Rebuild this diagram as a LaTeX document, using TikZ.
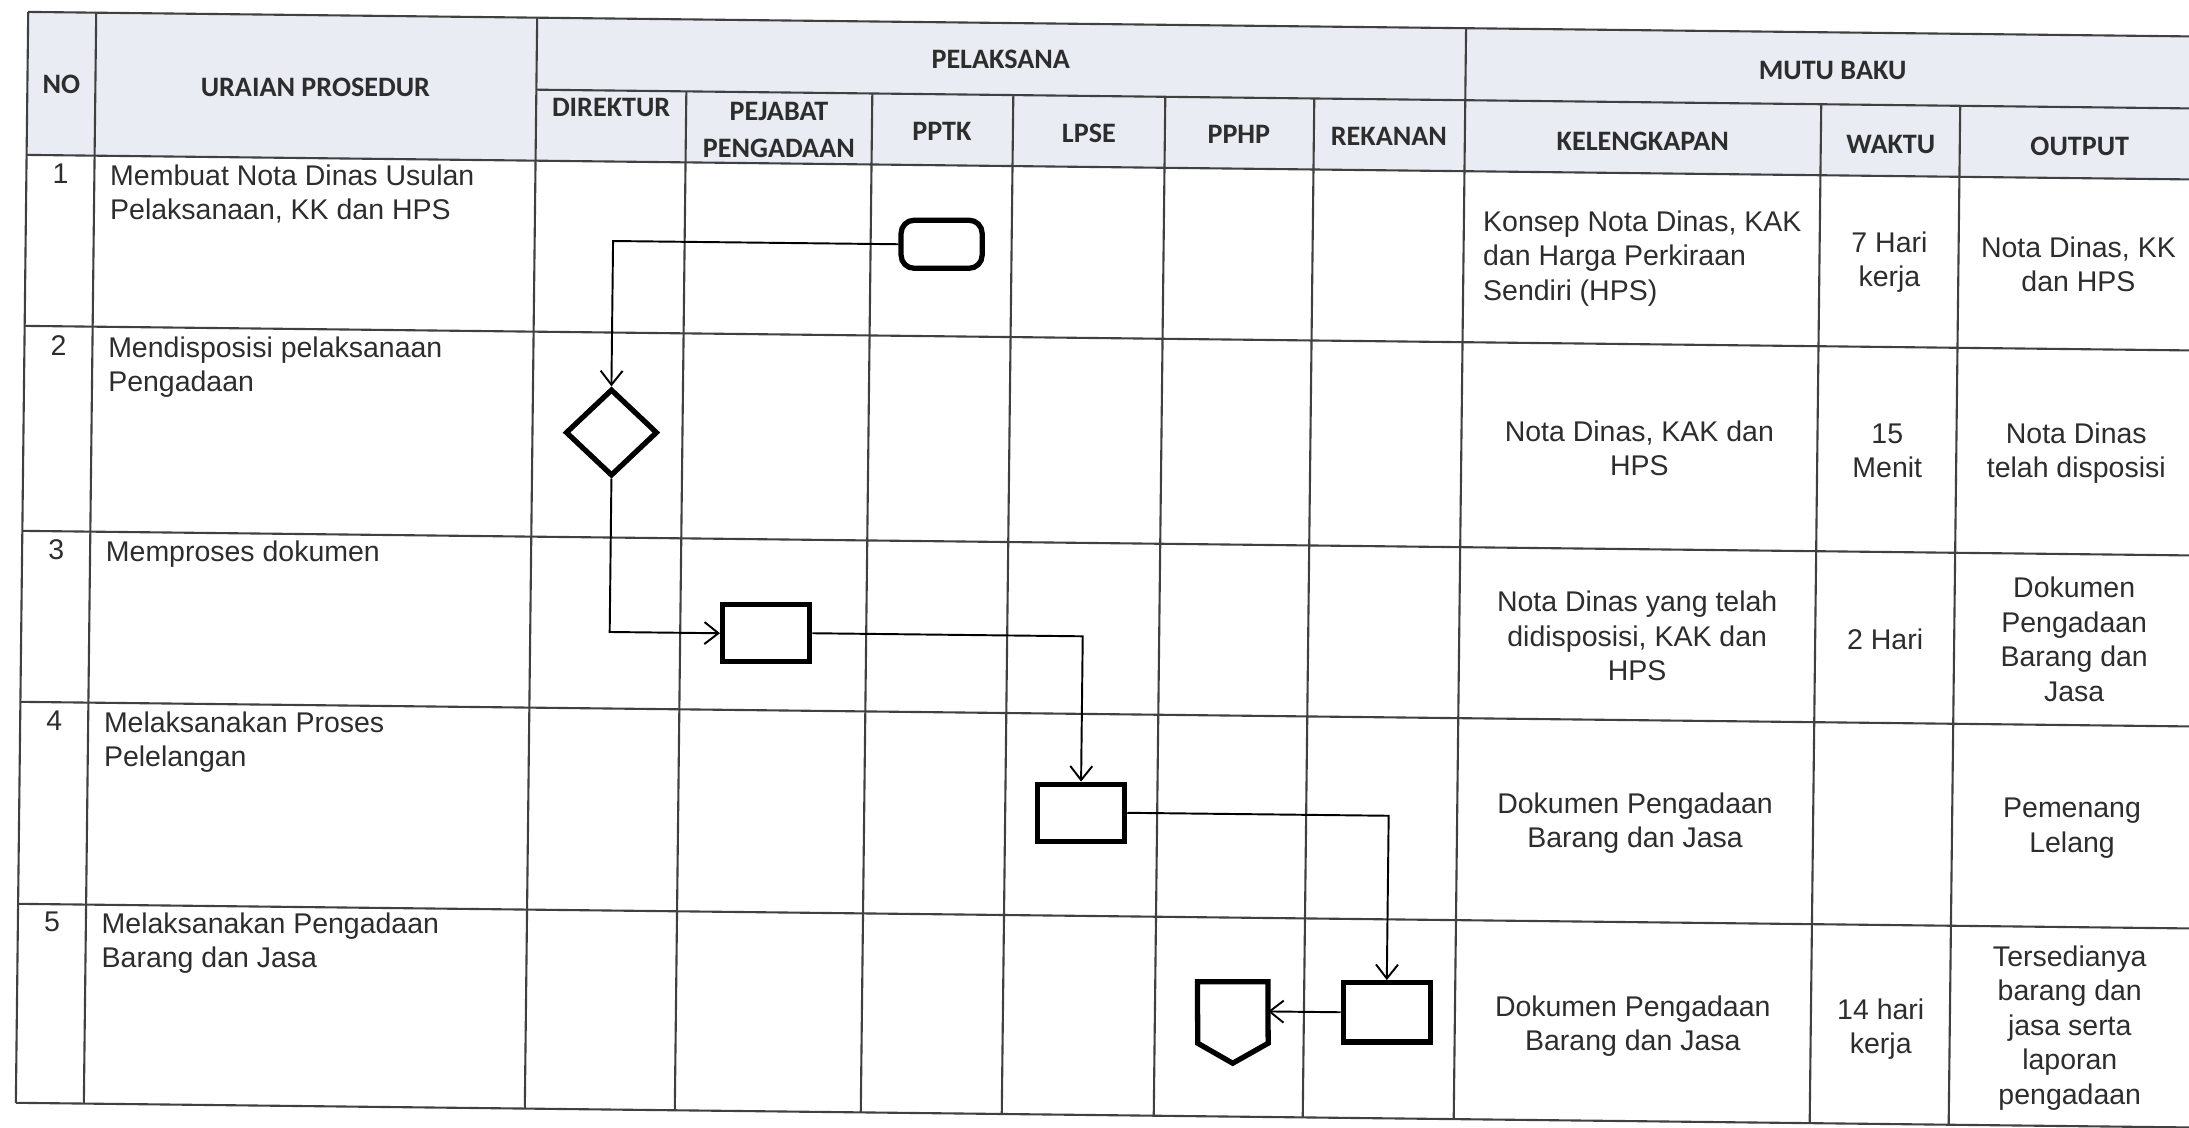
\documentclass[tikz,border=0pt]{standalone}
\usepackage{fontspec}
\setmainfont{Liberation Sans}
\newfontfamily\headfont{Carlito}
\usepackage{xcolor}
\usepackage{tikz}
\usetikzlibrary{%
    shapes.geometric,%
    arrows.meta%
}
\definecolor{headfill}{RGB}{234,236,244}
\definecolor{ink}{RGB}{45,45,45}

\begin{document}
\begin{tikzpicture}[
        x=0.01cm, y=-0.01cm,
        grid/.style={draw=black!75, line width=0.6pt},
        head/.style={font={\headfont\bfseries\fontsize{8}{10.5}\selectfont},
            text=ink, align=center, inner sep=0pt},
        body/.style={font={\fontsize{8.1}{9.8}\selectfont},
            text=ink, align=center, inner sep=0pt},
        flowbox/.style={draw=black, line width=1.5pt, inner sep=0pt,
            minimum width=0.87cm, minimum height=0.57cm},
        flowline/.style={black, line width=0.55pt},
        >={Straight Barb[length=1.4mm,width=2.2mm]},
        ]
        \fill[white] (0,0) rectangle (2189,1127);
        \useasboundingbox (0,0) rectangle (2189,1127);

        % the scan is a little skewed
        \begin{scope}[rotate around={-0.65:(1094,563)}]
        % header background
        \fill[headfill] (22,24) rectangle (2200,167);

        % horizontal rules
        \draw[grid] (22,24) -- (2200,24);
        \draw[grid] (531,96) -- (2200,96);
        \draw[grid] (22,167) -- (2200,167);
        \draw[grid] (22,338) -- (2200,338);
        \draw[grid] (22,543) -- (2200,543);
        \draw[grid] (22,714) -- (2200,714);
        \draw[grid] (22,916) -- (2200,916);
        \draw[grid] (22,1115) -- (2200,1115);

        % vertical rules
        \draw[grid] (22,24) -- (22,1115);
        \draw[grid] (90,24) -- (90,1115);
        \draw[grid] (531,24) -- (531,1115);
        \draw[grid] (681,96) -- (681,1115);
        \draw[grid] (867,96) -- (867,1115);
        \draw[grid] (1008,96) -- (1008,1115);
        \draw[grid] (1160,96) -- (1160,1115);
        \draw[grid] (1309,96) -- (1309,1115);
        \draw[grid] (1460,24) -- (1460,1115);
        \draw[grid] (1816,96) -- (1816,1115);
        \draw[grid] (1955,96) -- (1955,1115);

        % header
        \node[head] (hno) at (56,96) {NO};
        \node[head] (hura) at (310,96) {URAIAN PROSEDUR};
        \node[head] (hpel) at (995,60) {PELAKSANA};
        \node[head] (hmut) at (1827,62) {MUTU BAKU};
        \node[head] (hdir) at (606,113) {DIREKTUR};
        \node[head] (hpej) at (774,134) {PEJABAT\\PENGADAAN};
        \node[head] (hppt) at (937,133) {PPTK};
        \node[head] (hlps) at (1084,133) {LPSE};
        \node[head] (hpph) at (1234,133) {PPHP};
        \node[head] (hrek) at (1384,133) {REKANAN};
        \node[head] (hkel) at (1638,135) {KELENGKAPAN};
        \node[head] (hwak) at (1886,135) {WAKTU};
        \node[head] (hout) at (2075,135) {OUTPUT};

        % row 1
        \node[body, anchor=north] (n1) at (56,175) {1};
        \node[body, anchor=north west, align=left] (u1) at (105,175)
            {Membuat Nota Dinas Usulan\\Pelaksanaan, KK dan HPS};
        \node[body, anchor=west, align=left] (k1) at (1479,254)
            {Konsep Nota Dinas, KAK\\dan Harga Perkiraan\\Sendiri (HPS)};
        \node[body] (w1) at (1886,253) {7 Hari\\kerja};
        \node[body] (o1) at (2075,253) {Nota Dinas, KK\\dan HPS};

        % row 2
        \node[body, anchor=north] (n2) at (56,347) {2};
        \node[body, anchor=north west, align=left] (u2) at (105,347)
            {Mendisposisi pelaksanaan\\Pengadaan};
        \node[body] (k2) at (1638,442) {Nota Dinas, KAK dan\\HPS};
        \node[body] (w2) at (1886,442) {15\\Menit};
        \node[body] (o2) at (2075,442) {Nota Dinas\\telah disposisi};

        % row 3
        \node[body, anchor=north] (n3) at (56,551) {3};
        \node[body, anchor=north west, align=left] (u3) at (105,551)
            {Memproses dokumen};
        \node[body] (k3) at (1638,630) {Nota Dinas yang telah\\didisposisi, KAK dan\\HPS};
        \node[body] (w3) at (1886,630) {2 Hari};
        \node[body] (o3) at (2075,628) {Dokumen\\Pengadaan\\Barang dan\\Jasa};

        % row 4
        \node[body, anchor=north] (n4) at (56,722) {4};
        \node[body, anchor=north west, align=left] (u4) at (105,722)
            {Melaksanakan Proses\\Pelelangan};
        \node[body] (k4) at (1638,817) {Dokumen Pengadaan\\Barang dan Jasa};
        \node[body] (o4) at (2075,817) {Pemenang\\Lelang};

        % row 5
        \node[body, anchor=north] (n5) at (56,923) {5};
        \node[body, anchor=north west, align=left] (u5) at (105,923)
            {Melaksanakan Pengadaan\\Barang dan Jasa};
        \node[body] (k5) at (1638,1020) {Dokumen Pengadaan\\Barang dan Jasa};
        \node[body] (w5) at (1886,1020) {14 hari\\kerja};
        \node[body] (o5) at (2075,1017) {Tersedianya\\barang dan\\jasa serta\\laporan\\pengadaan};

        % flow symbols
        \node[flowbox, rounded corners=1.3mm, minimum width=0.81cm,
            minimum height=0.48cm] (pptk) at (938,246) {};
        \node[diamond, draw=black, line width=1.5pt, inner sep=0pt,
            minimum width=0.92cm, minimum height=0.87cm] (dispo) at (610,438) {};
        \node[flowbox] (pjbt) at (767,637) {};
        \node[flowbox] (lpse) at (1084,813) {};
        \node[flowbox, minimum height=0.59cm] (rknn) at (1392,1009) {};
        % off-page connector
        \node[minimum width=0.69cm, minimum height=0.8cm, inner sep=0pt]
            (pphp) at (1238,1021) {};
        \draw[black, line width=1.5pt] (pphp.north west) -- (pphp.north east)
            -- ([yshift=0.2cm]pphp.south east) -- (pphp.south)
            -- ([yshift=0.2cm]pphp.south west) -- cycle;

        % connectors
        \draw[flowline, ->] (pptk.west) -| (dispo.north);
        \draw[flowline, ->] (dispo.south) |- (pjbt.west);
        \draw[flowline, ->] (pjbt.east) -| (lpse.north);
        \draw[flowline, ->] (lpse.east) -| (rknn.north);
        \draw[flowline, ->] (rknn.west) -- (rknn.west -| pphp.east);
        \end{scope}
    \end{tikzpicture}
\end{document}
